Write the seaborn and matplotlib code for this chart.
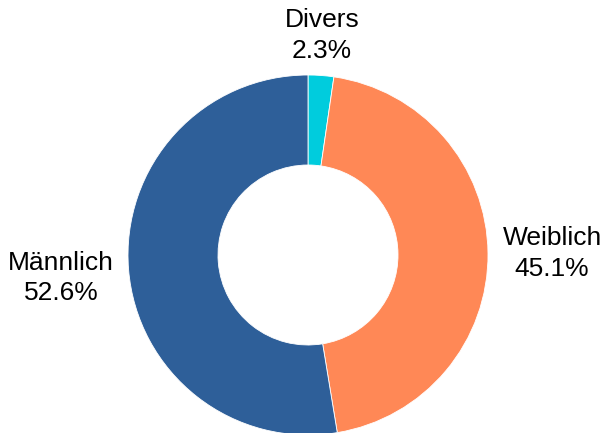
import numpy as np
import matplotlib
matplotlib.use("Agg")
import matplotlib.pyplot as plt
import seaborn as sns

categories = ["Divers", "Weiblich", "Männlich"]
values = [2.3, 45.1, 52.6]
colors = ["#00CCDD", "#FF8856", "#2E5F99"]

sns.set_theme(style="white")
plt.rcParams['font.family'] = ['Liberation Sans', 'DejaVu Sans']

W, H = 604, 433
fig = plt.figure(figsize=(W / 100, H / 100), dpi=100)
ax = fig.add_axes([0, 0, 1, 1])
cx, cy, R = 308, 255, 180

wedges, _ = ax.pie(values, colors=colors, startangle=90, counterclock=False,
                   radius=1, wedgeprops=dict(width=0.5, edgecolor='white', linewidth=0.6))
ax.set_aspect('auto')
ax.set_xlim(-cx / R, (W - cx) / R)
ax.set_ylim(-(H - cy) / R, cy / R)
ax.axis('off')

total = sum(values)
start = 90.0
for cat, v in zip(categories, values):
    span = v / total * 360
    mid = np.deg2rad(start - span / 2)
    start -= span
    x, y = 1.08 * np.cos(mid), 1.07 * np.sin(mid)
    ha = 'center' if abs(np.cos(mid)) < 0.3 else ('left' if x > 0 else 'right')
    va = 'center' if abs(np.sin(mid)) < 0.5 else ('bottom' if y > 0 else 'top')
    if va == 'center' and y < 0:
        y -= 0.04
    ax.text(x, y, f"{cat}\n{v:.1f}%", ha=ha, va=va, ma='center', fontsize=19, color='black',
            linespacing=1.35)

fig.savefig("out.png", dpi=100)
